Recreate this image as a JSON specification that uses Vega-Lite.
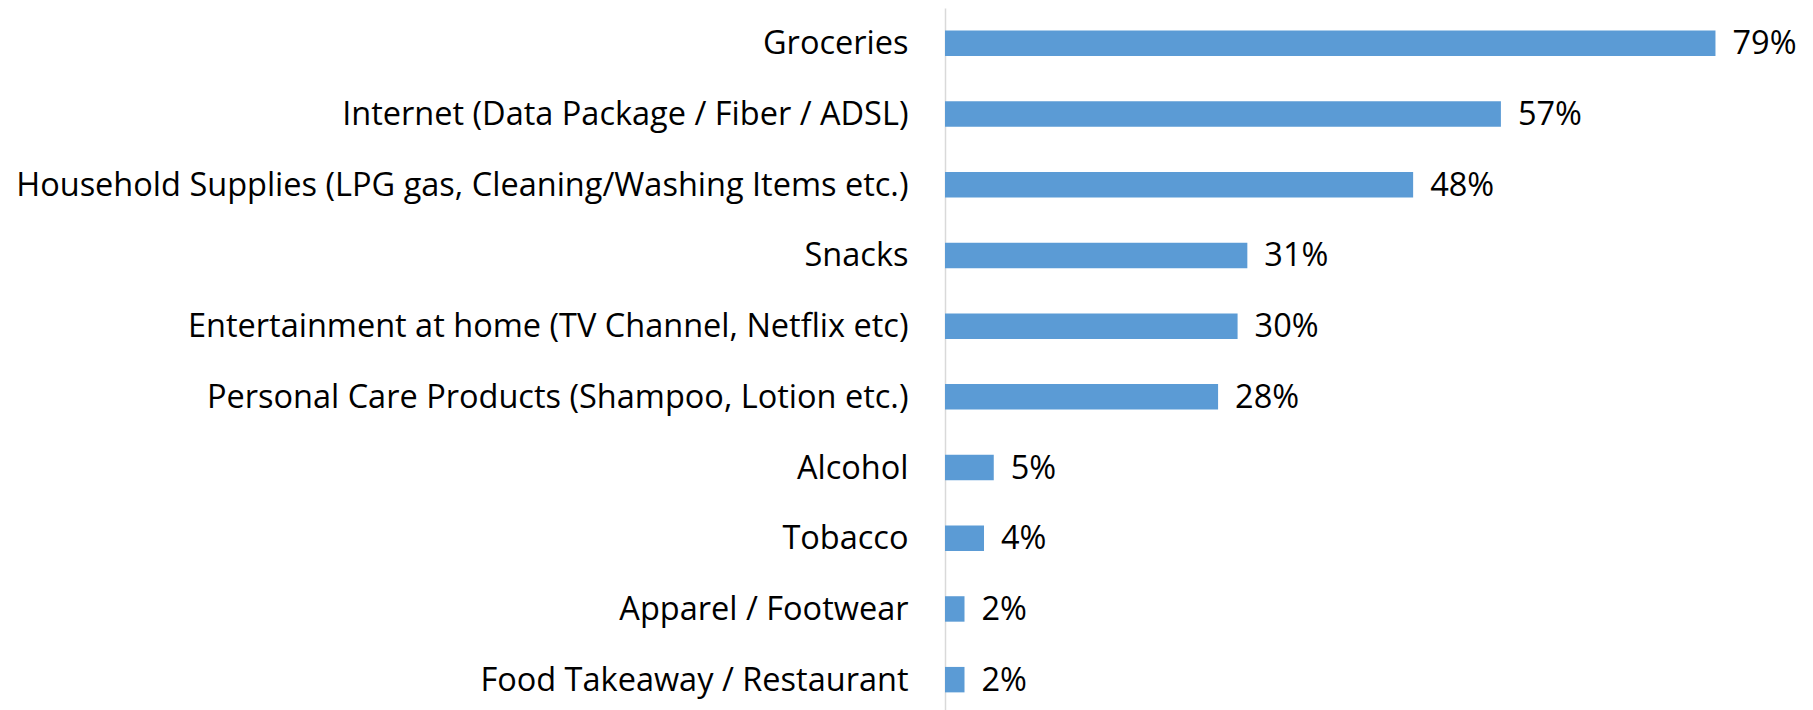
{
  "$schema": "https://vega.github.io/schema/vega-lite/v6.json",
  "autosize": "none",
  "padding": {"left": 945, "top": 8, "right": 0, "bottom": 0},
  "width": 868,
  "height": 707,
  "background": "white",
  "config": {"view": {"stroke": null}, "font": "Open Sans"},
  "data": {
    "values": [
      {"category": "Groceries", "pct": 0.79},
      {"category": "Internet (Data Package / Fiber / ADSL)", "pct": 0.57},
      {"category": "Household Supplies (LPG gas, Cleaning/Washing Items etc.)", "pct": 0.48},
      {"category": "Snacks", "pct": 0.31},
      {"category": "Entertainment at home (TV Channel, Netflix etc)", "pct": 0.30},
      {"category": "Personal Care Products (Shampoo, Lotion etc.)", "pct": 0.28},
      {"category": "Alcohol", "pct": 0.05},
      {"category": "Tobacco", "pct": 0.04},
      {"category": "Apparel / Footwear", "pct": 0.02},
      {"category": "Food Takeaway / Restaurant", "pct": 0.02}
    ]
  },
  "encoding": {
    "y": {
      "field": "category",
      "type": "nominal",
      "sort": null,
      "scale": {"paddingInner": 0.64, "paddingOuter": 0.32},
      "axis": {
        "title": null,
        "ticks": false,
        "labelPadding": 37,
        "labelFontSize": 32.5,
        "labelColor": "#000000",
        "labelLimit": 1000,
        "labelBaseline": "middle",
        "labelOffset": 1,
        "domainColor": "#d9d9d9",
        "domainWidth": 1.5
      }
    },
    "x": {
      "field": "pct",
      "type": "quantitative",
      "scale": {"domain": [0, 0.89], "nice": false},
      "axis": null
    }
  },
  "layer": [
    {"mark": {"type": "bar", "color": "#5b9bd5"}},
    {
      "mark": {"type": "text", "align": "left", "baseline": "middle", "dx": 17, "dy": 1, "fontSize": 32.5, "color": "#000000"},
      "encoding": {"text": {"field": "pct", "type": "quantitative", "format": ".0%"}}
    }
  ]
}
